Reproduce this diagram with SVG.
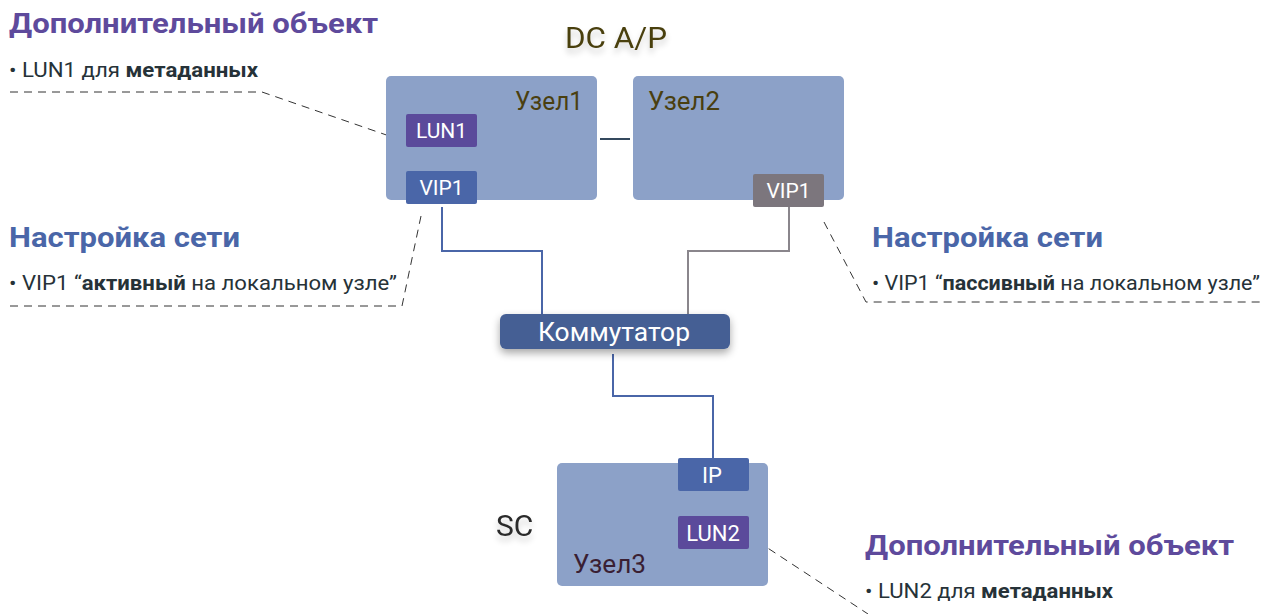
<svg xmlns="http://www.w3.org/2000/svg" width="1283" height="614" viewBox="0 0 1283 614">
<defs>
<filter id="sh" x="-20%" y="-50%" width="140%" height="220%">
<feGaussianBlur in="SourceAlpha" stdDeviation="4"/>
<feOffset dx="0" dy="4"/>
<feComponentTransfer><feFuncA type="linear" slope="0.35"/></feComponentTransfer>
<feMerge><feMergeNode/><feMergeNode in="SourceGraphic"/></feMerge>
</filter>
<filter id="tsh" x="-20%" y="-50%" width="140%" height="220%">
<feGaussianBlur in="SourceAlpha" stdDeviation="3"/>
<feOffset dx="0" dy="5"/>
<feComponentTransfer><feFuncA type="linear" slope="0.2"/></feComponentTransfer>
<feMerge><feMergeNode/><feMergeNode in="SourceGraphic"/></feMerge>
</filter>
</defs>
<style>
text{font-family:Roboto,"Liberation Sans",sans-serif}
.node{fill:#8ca1c8}
.lun{fill:#5b4a9b}
.vip{fill:#4a66a8}
.vipg{fill:#7c767d}
.wt{fill:#ffffff;font-size:21px;text-anchor:middle}
.wt2{fill:#ffffff;font-size:22px;text-anchor:middle}
.nt{fill:#4a3f10;font-size:25px}
.h1p{fill:#5e4a9c;font-size:28px;font-weight:bold}
.h1b{fill:#4a66a8;font-size:28px;font-weight:bold}
.bt{fill:#263238;font-size:21px}
.b{font-weight:bold}
.dash{fill:none;stroke:#333;stroke-width:1;stroke-dasharray:8 6}
.cb{fill:none;stroke:#4a66a8;stroke-width:2}
.cg{fill:none;stroke:#8a868c;stroke-width:2}
</style>
<rect width="1283" height="614" fill="#ffffff"/>

<g id="connectors">
<line x1="600" y1="139" x2="630" y2="139" stroke="#34495e" stroke-width="2"/>
<polyline class="cb" points="442,207 442,251 542,251 542,316"/>
<polyline class="cg" points="789,207 789,251 688,251 688,316"/>
<polyline class="cb" points="613,354 613,396 713,396 713,459"/>
<polyline class="dash" points="10,92 262,92 398,139"/>
<polyline class="dash" points="10,306 402,306 421,216"/>
<polyline class="dash" points="824,222 866,302 1262,302"/>
<line class="dash" x1="757" y1="541" x2="868" y2="614"/>
</g>

<g id="title-dc">
<text x="565" y="48" font-size="30" fill="#4a3f10" textLength="102" lengthAdjust="spacingAndGlyphs" filter="url(#tsh)">DC A/P</text>
</g>

<g id="node1">
<rect class="node" x="386" y="76" width="211" height="124" rx="5"/>
<text class="nt" x="515" y="110" textLength="68" lengthAdjust="spacingAndGlyphs">Узел1</text>
<g id="lun1"><rect class="lun" x="406" y="114" width="71" height="33" rx="2"/><text class="wt" x="441.5" y="138">LUN1</text></g>
<g id="vip1a"><rect class="vip" x="406" y="171" width="71" height="33" rx="2"/><text class="wt" x="441.5" y="195">VIP1</text></g>
</g>

<g id="node2">
<rect class="node" x="633" y="76" width="211" height="124" rx="5"/>
<text class="nt" x="648" y="110" textLength="72" lengthAdjust="spacingAndGlyphs">Узел2</text>
<g id="vip1p"><rect class="vipg" x="753" y="174" width="71" height="33" rx="2"/><text class="wt" x="788.5" y="198">VIP1</text></g>
</g>

<g id="switch">
<rect x="500" y="314" width="230" height="35" rx="6" fill="#445f94" filter="url(#sh)"/>
<text x="538" y="341" font-size="25" fill="#ffffff" textLength="152" lengthAdjust="spacingAndGlyphs">Коммутатор</text>
</g>

<g id="node3">
<rect class="node" x="557" y="463" width="211" height="123" rx="5"/>
<text x="573" y="573" font-size="26" fill="#3a1f33" textLength="73" lengthAdjust="spacingAndGlyphs">Узел3</text>
<g id="ip"><rect class="vip" x="678" y="458" width="71" height="33" rx="2"/><text class="wt2" x="712" y="483">IP</text></g>
<g id="lun2"><rect class="lun" x="678" y="516" width="71" height="33" rx="2"/><text class="wt2" x="713" y="541">LUN2</text></g>
</g>

<g id="title-sc">
<text x="496" y="536" font-size="30" fill="#2a2a2a" filter="url(#tsh)">SC</text>
</g>

<g id="note-lun1">
<text class="h1p" x="9" y="33" textLength="369" lengthAdjust="spacingAndGlyphs">Дополнительный объект</text>
<text class="bt" x="9" y="77" textLength="249" lengthAdjust="spacingAndGlyphs">• LUN1 для <tspan class="b">метаданных</tspan></text>
</g>

<g id="note-net-active">
<text class="h1b" x="9" y="247" textLength="231" lengthAdjust="spacingAndGlyphs">Настройка сети</text>
<text class="bt" x="9" y="290" textLength="388" lengthAdjust="spacingAndGlyphs">• VIP1 “<tspan class="b">активный</tspan> на локальном узле”</text>
</g>

<g id="note-net-passive">
<text class="h1b" x="872" y="247" textLength="231" lengthAdjust="spacingAndGlyphs">Настройка сети</text>
<text class="bt" x="872" y="290" textLength="388" lengthAdjust="spacingAndGlyphs">• VIP1 “<tspan class="b">пассивный</tspan> на локальном узле”</text>
</g>

<g id="note-lun2">
<text class="h1p" x="865" y="555" textLength="369" lengthAdjust="spacingAndGlyphs">Дополнительный объект</text>
<text class="bt" x="865" y="598" textLength="248" lengthAdjust="spacingAndGlyphs">• LUN2 для <tspan class="b">метаданных</tspan></text>
</g>
</svg>
